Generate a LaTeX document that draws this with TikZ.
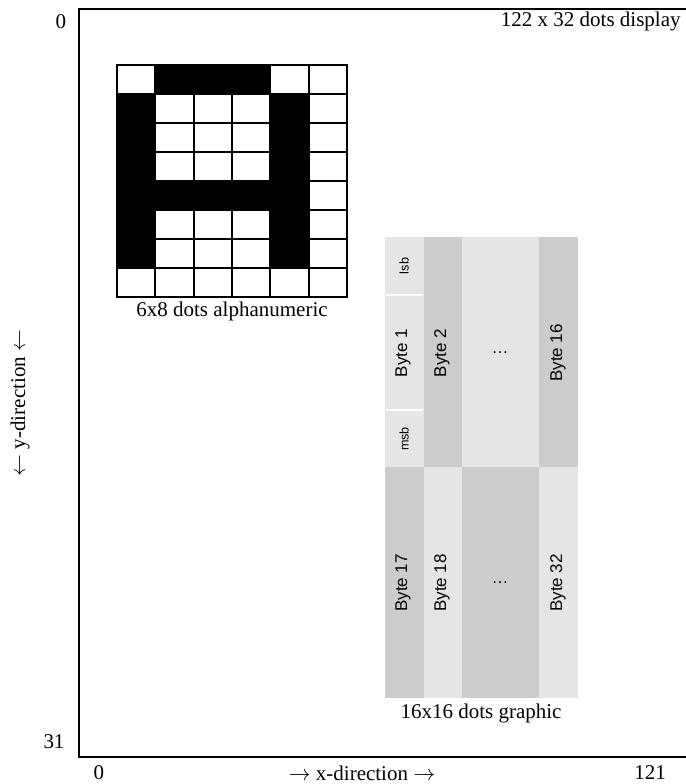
\documentclass[tikz,border=0pt]{standalone}
\usepackage{fontspec}
\setmainfont{Liberation Serif}
\setsansfont{Liberation Sans}
\usetikzlibrary{positioning}

\definecolor{bytelight}{gray}{0.9}
\definecolor{bytedark}{gray}{0.8}

\begin{document}
\begin{tikzpicture}[
    x=0.5pt, y=-0.5pt,
    lbl/.style={font=\fontsize{10.5}{12}\selectfont, inner sep=0pt},
    dotcell/.style={draw, line width=1.1pt},
    bytetxt/.style={font=\sffamily\fontsize{8.5}{10}\selectfont, rotate=90, inner sep=0pt},
    bittxt/.style={font=\sffamily\fontsize{6.3}{7}\selectfont, rotate=90, inner sep=0pt},
    dotstxt/.style={font=\sffamily\fontsize{8.5}{10}\selectfont, inner sep=0pt}
]
\useasboundingbox (0,0) rectangle (686,784);

% display frame, open to the right
\draw[line width=1pt] (686,9) -- (79,9) -- (79,757) -- (686,757);

\node[lbl, anchor=east] (display) at (681,21) {122 x 32 dots display};
\node[lbl] (ytop) at (61,22) {0};
\node[lbl] (ybot) at (54,742) {31};
\node[lbl] (xleft) at (99,773) {0};
\node[lbl] (xright) at (650,773) {121};
\node[lbl] (xdir) at (362,773) {$\rightarrow$ x-direction $\rightarrow$};
\node[lbl, rotate=90] (ydir) at (20,403) {$\leftarrow$ y-direction $\leftarrow$};

% 6x8 character cell
\def\cw{38.33}
\def\ch{29}
\foreach \c/\r in {1/0,2/0,3/0, 0/1,4/1, 0/2,4/2, 0/3,4/3,
                   0/4,1/4,2/4,3/4,4/4, 0/5,4/5, 0/6,4/6}
  \fill (117+\c*\cw, 65+\r*\ch) rectangle ++(\cw,\ch);
\foreach \c in {0,...,5}
  \foreach \r in {0,...,7}
    \draw[dotcell] (117+\c*\cw, 65+\r*\ch) rectangle ++(\cw,\ch);
\node[lbl] (charlbl) at (232,311) {6x8 dots alphanumeric};

% 16x16 graphic, two rows of bytes
\foreach \xa/\xb/\ctop/\cbot in {385/424/bytelight/bytedark, 424/462/bytedark/bytelight,
                                 462/539/bytelight/bytedark, 539/578/bytedark/bytelight} {
  \fill[\ctop] (\xa,237) rectangle (\xb,467);
  \fill[\cbot] (\xa,467) rectangle (\xb,698);
}
\draw[white, line width=0.6pt] (386,295) -- (423,295);
\draw[white, line width=0.6pt] (386,410) -- (423,410);

\node[bittxt] (lsb) at (404,266) {lsb};
\node[bytetxt] (byte1) at (403,353) {Byte 1};
\node[bittxt] (msb) at (404,439) {msb};
\node[bytetxt] (byte2) at (442,353) {Byte 2};
\node[dotstxt] (dotsa) at (500,353) {\dots};
\node[bytetxt] (byte16) at (558,353) {Byte 16};
\node[bytetxt] (byte17) at (403,583) {Byte 17};
\node[bytetxt] (byte18) at (442,583) {Byte 18};
\node[dotstxt] (dotsb) at (500,583) {\dots};
\node[bytetxt] (byte32) at (558,583) {Byte 32};
\node[lbl] (gfxlbl) at (481,713) {16x16 dots graphic};

\end{tikzpicture}
\end{document}
